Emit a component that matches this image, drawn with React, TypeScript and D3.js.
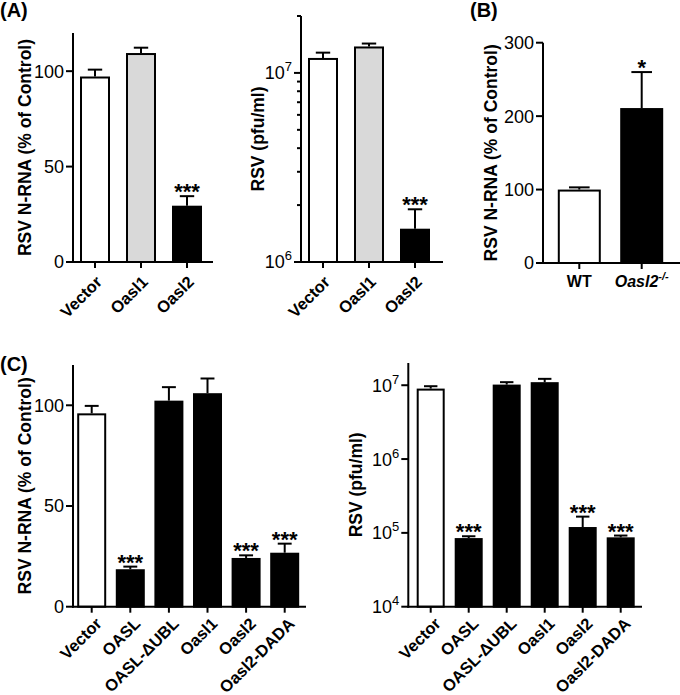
import React from 'react';
import * as d3 from 'd3';

const FONT = "'Liberation Sans', Arial, Helvetica, sans-serif";

// ---------- Panel A ----------
const catsA = ['Vector', 'Oasl1', 'Oasl2'];
const rnaA = [97.2, 109.5, 29.5];
const rnaAUpper = [100.8, 112.3, 34.5];
const pfuA = [1.2e7, 1.38e7, 1.5e6];
const pfuAUpper = [1.28e7, 1.43e7, 1.9e6];
const fillsA = ['#ffffff', '#d9d9d9', '#000000'];
const sigA = ['', '', '***'];
const ticksRnaA = [0, 50, 100];
const ticksPfuA = [1e6, 1e7];
const minorPfuA = [2e6, 3e6, 4e6, 5e6, 6e6, 7e6, 8e6, 9e6, 2e7];

// ---------- Panel B ----------
const catsB = ['WT', 'Oasl2'];
const rnaB = [100, 211];
const rnaBUpper = [103, 260];
const fillsB = ['#ffffff', '#000000'];
const sigB = ['', '*'];
const ticksB = [0, 100, 200, 300];

// ---------- Panel C ----------
const catsC = ['Vector', 'OASL', 'OASL-\u0394UBL', 'Oasl1', 'Oasl2', 'Oasl2-DADA'];
const rnaC = [96, 18.6, 102.3, 106, 24.2, 26.8];
const rnaCUpper = [99.7, 19.9, 109, 113.3, 25.5, 31.3];
const pfuC = [9e6, 8.5e4, 1.02e7, 1.1e7, 1.2e5, 8.7e4];
const pfuCUpper = [9.7e6, 9.0e4, 1.1e7, 1.22e7, 1.66e5, 9.2e4];
const fillsC = ['#ffffff', '#000000', '#000000', '#000000', '#000000', '#000000'];
const sigC = ['', '***', '', '', '***', '***'];
const ticksRnaC = [0, 50, 100];
const ticksPfuC = [1e4, 1e5, 1e6, 1e7];

type PanelProps = {
  cats: string[];
  values: number[];
  upper: number[];
  fills: string[];
  sig: string[];
  log?: boolean;
  domain: [number, number];
  ticks: number[];
  minor?: number[];
  axisX: number;
  axisEnd: number;
  top: number;
  bottom: number;
  firstCenter: number;
  step: number;
  barW: number;
  yLabel: string;
  yLabelX: number;
  xMode: 'rot' | 'flat';
  labelDX?: number;
  labelDY?: number;
};

function Panel(p: PanelProps) {
  const y: any = p.log
    ? d3.scaleLog().domain(p.domain).range([p.bottom, p.top])
    : d3.scaleLinear().domain(p.domain).range([p.bottom, p.top]);
  const start = p.firstCenter - p.step / 2;
  const pad = 1 - p.barW / p.step;
  const x = d3
    .scaleBand<string>()
    .domain(p.cats)
    .range([start, start + p.step * p.cats.length])
    .paddingInner(pad)
    .paddingOuter(pad / 2);
  const bw = x.bandwidth();
  const capW = bw * 0.48;
  const ldx = p.labelDX ?? 8;
  const ldy = p.labelDY ?? 21;

  const fmt = (t: number) => {
    if (!p.log) return <>{String(t)}</>;
    const e = Math.round(Math.log10(t));
    return (
      <>
        10
        <tspan dy={-8} fontSize={13}>
          {e}
        </tspan>
      </>
    );
  };

  return (
    <g fontFamily={FONT}>
      {/* bars */}
      {p.cats.map((c, i) => {
        const x0 = x(c) as number;
        const cx = x0 + bw / 2;
        const yv = y(p.values[i]);
        const yu = y(p.upper[i]);
        return (
          <g key={c}>
            <line x1={cx} x2={cx} y1={yv} y2={yu} stroke="#000" strokeWidth={2} />
            <line x1={cx - capW / 2} x2={cx + capW / 2} y1={yu} y2={yu} stroke="#000" strokeWidth={2} />
            <rect
              x={x0 + 1}
              y={yv + 1}
              width={bw - 2}
              height={Math.max(0, p.bottom - yv - 1)}
              fill={p.fills[i]}
              stroke="#000"
              strokeWidth={2}
            />
            {p.sig[i] && (
              <text x={cx} y={yu + 3} textAnchor="middle" fontSize={22} fontWeight="bold">
                {p.sig[i]}
              </text>
            )}
          </g>
        );
      })}
      {/* y axis */}
      <line x1={p.axisX} x2={p.axisX} y1={p.top} y2={p.bottom + 1} stroke="#000" strokeWidth={2} />
      {p.ticks.map((t) => (
        <g key={'t' + t}>
          <line x1={p.axisX - 7} x2={p.axisX} y1={y(t)} y2={y(t)} stroke="#000" strokeWidth={2} />
          <text x={p.axisX - 9} y={y(t)} dy="0.36em" textAnchor="end" fontSize={18}>
            {fmt(t)}
          </text>
        </g>
      ))}
      {(p.minor || []).map((t) => (
        <line key={'m' + t} x1={p.axisX - 4} x2={p.axisX} y1={y(t)} y2={y(t)} stroke="#000" strokeWidth={2} />
      ))}
      {/* x axis */}
      <line x1={p.axisX - 1} x2={p.axisEnd} y1={p.bottom} y2={p.bottom} stroke="#000" strokeWidth={2} />
      {p.cats.map((c) => {
        const cx = (x(c) as number) + bw / 2;
        return <line key={'xt' + c} x1={cx} x2={cx} y1={p.bottom} y2={p.bottom + 6} stroke="#000" strokeWidth={2} />;
      })}
      {p.xMode === 'rot'
        ? p.cats.map((c) => {
            const cx = (x(c) as number) + bw / 2;
            return (
              <text
                key={'xl' + c}
                transform={`translate(${cx + ldx},${p.bottom + ldy}) rotate(-45)`}
                textAnchor="end"
                fontSize={16.5}
                fontWeight="bold"
              >
                {c}
              </text>
            );
          })
        : p.cats.map((c, i) => {
            const cx = (x(c) as number) + bw / 2;
            return (
              <text key={'xl' + c} x={cx} y={p.bottom + 24} textAnchor="middle" fontSize={16} fontWeight="bold">
                {i === 1 ? (
                  <>
                    <tspan fontStyle="italic">{c}</tspan>
                    <tspan dy={-7} fontSize={11} fontStyle="italic">
                      -/-
                    </tspan>
                  </>
                ) : (
                  c
                )}
              </text>
            );
          })}
      {/* y label */}
      <text
        transform={`translate(${p.yLabelX},${(p.top + p.bottom) / 2}) rotate(-90)`}
        textAnchor="middle"
        fontSize={17.5}
        fontWeight="bold"
      >
        {p.yLabel}
      </text>
    </g>
  );
}

export default function App() {
  return (
    <svg
      width={680}
      height={695}
      viewBox="0 0 680 695"
      style={{ position: 'absolute', left: 0, top: 0, background: '#fff' }}
    >
      <rect width={680} height={695} fill="#fff" />
      <g fontFamily={FONT} fontWeight="bold" fontSize={20}>
        <text x={0} y={17}>(A)</text>
        <text x={470} y={17}>(B)</text>
        <text x={0} y={371}>(C)</text>
      </g>
      <Panel
        cats={catsA}
        values={rnaA}
        upper={rnaAUpper}
        fills={fillsA}
        sig={sigA}
        domain={[0, 120]}
        ticks={ticksRnaA}
        axisX={73}
        axisEnd={213}
        top={33}
        bottom={262}
        firstCenter={95}
        step={46}
        barW={30}
        yLabel="RSV N-RNA (% of Control)"
        yLabelX={31}
        xMode="rot"
      />
      <Panel
        cats={catsA}
        values={pfuA}
        upper={pfuAUpper}
        fills={fillsA}
        sig={sigA}
        log
        domain={[1e6, 2e7]}
        ticks={ticksPfuA}
        minor={minorPfuA}
        axisX={301}
        axisEnd={443}
        top={16}
        bottom={262}
        firstCenter={323}
        step={46}
        barW={30}
        yLabel="RSV (pfu/ml)"
        yLabelX={264}
        xMode="rot"
      />
      <Panel
        cats={catsB}
        values={rnaB}
        upper={rnaBUpper}
        fills={fillsB}
        sig={sigB}
        domain={[0, 300]}
        ticks={ticksB}
        axisX={543}
        axisEnd={680}
        top={42.7}
        bottom={263}
        firstCenter={579.3}
        step={62.4}
        barW={43}
        yLabel="RSV N-RNA (% of Control)"
        yLabelX={497}
        xMode="flat"
      />
      <Panel
        cats={catsC}
        values={rnaC}
        upper={rnaCUpper}
        fills={fillsC}
        sig={sigC}
        domain={[0, 120]}
        ticks={ticksRnaC}
        axisX={73}
        axisEnd={306}
        top={365}
        bottom={606.7}
        firstCenter={91.7}
        step={38.6}
        barW={29}
        yLabel="RSV N-RNA (% of Control)"
        yLabelX={31}
        xMode="rot"
        labelDX={11}
        labelDY={18}
      />
      <Panel
        cats={catsC}
        values={pfuC}
        upper={pfuCUpper}
        fills={fillsC}
        sig={sigC}
        log
        domain={[1e4, 2e7]}
        ticks={ticksPfuC}
        axisX={408.3}
        axisEnd={642}
        top={363}
        bottom={606.7}
        firstCenter={430.7}
        step={38}
        barW={28}
        yLabel="RSV (pfu/ml)"
        yLabelX={362}
        xMode="rot"
        labelDX={11}
        labelDY={18}
      />
    </svg>
  );
}
